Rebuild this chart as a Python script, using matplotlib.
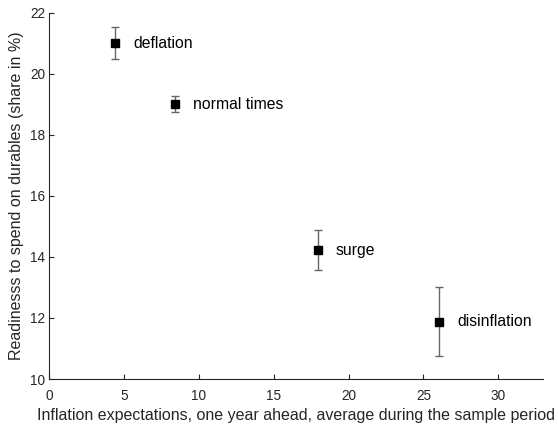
import matplotlib.pyplot as plt

plt.rcParams['font.family'] = ['Liberation Sans', 'DejaVu Sans']

regimes = ['deflation', 'normal times', 'surge', 'disinflation']
expect = [4.4, 8.4, 17.95, 26.05]
readiness = [21.0, 19.0, 14.22, 11.88]
err = [0.52, 0.26, 0.65, 1.12]

fig = plt.figure(figsize=(5.58, 4.24), dpi=100)
ax = fig.add_axes([0.0884, 0.106, 0.885, 0.864])

ax.errorbar(expect, readiness, yerr=err, fmt='none', ecolor='0.4', elinewidth=1.0,
            capsize=3, capthick=1.0)
ax.plot(expect, readiness, 's', color='k', markersize=5.5)
for x, y, name in zip(expect, readiness, regimes):
    ax.annotate(name, (x, y), xytext=(13, 0), textcoords='offset points',
                va='center', ha='left', fontsize=11.3)

ax.set_xlim(0, 33)
ax.set_ylim(10, 22)
ax.set_xticks(range(0, 31, 5))
ax.set_yticks(range(10, 23, 2))
ax.tick_params(direction='in', length=3.5, labelsize=9.8, colors='0.15', width=0.8)
ax.tick_params(axis='x', pad=7.5)
ax.tick_params(axis='y', pad=3)
ax.spines['top'].set_visible(False)
ax.spines['right'].set_visible(False)
for s in ['left', 'bottom']:
    ax.spines[s].set_color('0.15')
    ax.spines[s].set_linewidth(0.8)

ax.set_xlabel('Inflation expectations, one year ahead, average during the sample period',
              fontsize=11.5, color='0.15', labelpad=3)
ax.set_ylabel('Readinesss to spend on durables (share in %)', fontsize=11.5,
              color='0.15', labelpad=4)

fig.savefig('out.png')
